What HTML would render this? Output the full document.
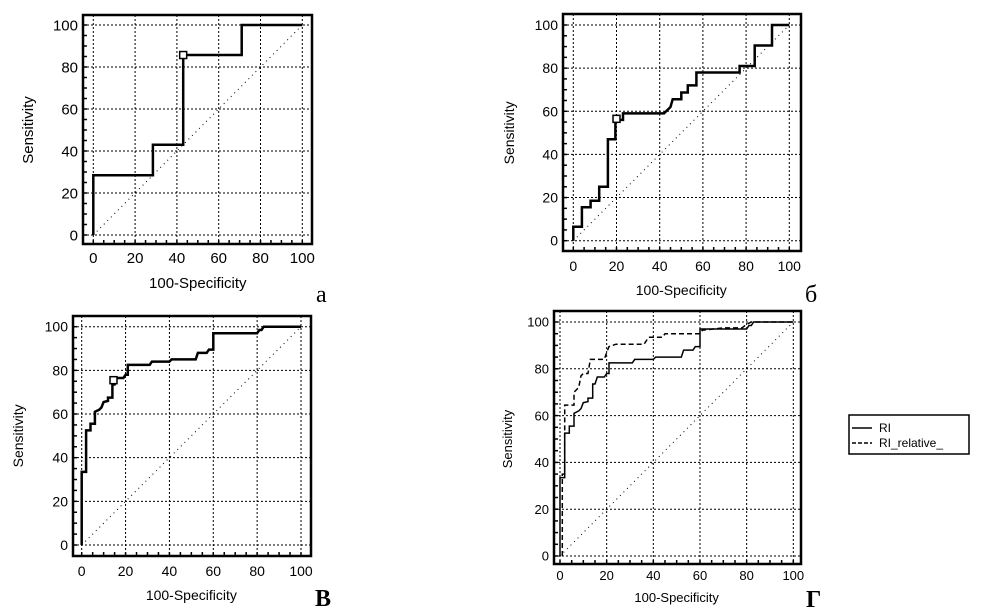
<!DOCTYPE html>
<html><head><meta charset="utf-8"><style>
html,body{margin:0;padding:0;background:#fff;}
svg{display:block;}
</style></head><body>
<svg id="root" width="994" height="614" viewBox="0 0 994 614" xmlns="http://www.w3.org/2000/svg">
<g id="legend">
<rect x="849" y="415" width="120" height="39" fill="#fff" stroke="#000" stroke-width="1.5"/>
<line x1="852" y1="428" x2="872" y2="428" stroke="#000" stroke-width="1.5"/>
<text x="879" y="432" font-family="Liberation Sans, sans-serif" font-size="12">RI</text>
<line x1="852" y1="443" x2="872" y2="443" stroke="#000" stroke-width="1.5" stroke-dasharray="4,2"/>
<text x="879" y="447" font-family="Liberation Sans, sans-serif" font-size="12">RI_relative_</text>
</g>
</svg>
<script>
const ticks = [0, 20, 40, 60, 80, 100];
const tickLabels = ["0", "20", "40", "60", "80", "100"];
// Panel a
const aX = [0, 0, 28.5, 28.5, 43, 43, 71, 71, 100];
const aY = [0, 28.5, 28.5, 43, 43, 85.7, 85.7, 100, 100];
const aMark = [43, 85.7];
// Panel б
const bX = [0, 0, 4, 4, 8, 8, 12, 12, 16, 16, 19.5, 19.5, 21, 23, 23, 42, 45, 46, 50, 50, 53, 53, 57, 57, 77, 77, 84, 84, 92, 92, 100];
const bY = [0, 6.5, 6.5, 15.5, 15.5, 18.5, 18.5, 25, 25, 47, 47, 56, 56, 56, 59, 59, 62, 65.6, 65.6, 68.7, 68.7, 72, 72, 78, 78, 81, 81, 90.5, 90.5, 100, 100];
const bMark = [20, 56.5];
// Panel в (RI)
const cX = [0, 0, 2, 2, 4, 4, 6, 6, 8, 9, 10, 12, 12, 14, 14, 15, 16, 19, 20, 21, 21, 31, 32, 40, 41, 52, 53, 57, 58, 60, 60, 80, 81, 82, 83, 100];
const cY = [0, 33.5, 33.5, 52.5, 52.5, 55.5, 55.5, 61, 62, 63, 65.5, 66, 67.5, 67.5, 73.5, 73.5, 76.5, 76.5, 78, 78, 82.5, 82.5, 84, 84, 85, 85, 88, 88, 89.5, 89.5, 97, 97, 98.5, 98.5, 100, 100];
const cMark = [14.5, 75.5];
// Panel г dashed (RI_relative_)
const dX = [1, 1, 2, 2, 6, 6, 8, 9, 10, 12, 13, 19, 20, 21, 24, 36, 38, 44, 45, 60, 61, 70, 78, 80, 82, 100];
const dY = [0, 35, 35, 64.5, 64.5, 70, 72, 77, 78, 78, 84, 84, 87, 89.5, 90.5, 90.5, 93.5, 93.5, 95, 95, 96.5, 97.5, 97.5, 99, 100, 100];

const NS = "http://www.w3.org/2000/svg";
const root = document.getElementById('root');
function mk(tag, attrs, parent) {
  const e = document.createElementNS(NS, tag);
  for (const k in attrs) e.setAttribute(k, attrs[k]);
  (parent || root).appendChild(e);
  return e;
}
function panel(p) {
  const g = mk('g', {});
  
  
  const sx = v => p.x0 + (p.x1 - p.x0) * v / 100;
  const sy = v => p.y0 + (p.y1 - p.y0) * v / 100;
  ticks.forEach(t => {
    const gv = mk('line', {x1: sx(t), x2: sx(t), y1: p.ft, y2: p.fb, stroke: '#000', 'stroke-width': 1, 'stroke-dasharray': '2,2'}, g);
    
    
    const gh = mk('line', {x1: p.fl, x2: p.fr, y1: sy(t), y2: sy(t), stroke: '#000', 'stroke-width': 1, 'stroke-dasharray': '2,2'}, g);
    
    
  });
  for (let t = 0; t <= 100; t += 5) {
    const tx = mk('line', {x1: sx(t), x2: sx(t), y1: p.fb, y2: p.fb - 4, stroke: '#000', 'stroke-width': 1.5}, g);
    
    
    const ty = mk('line', {x1: p.fl, x2: p.fl + 4, y1: sy(t), y2: sy(t), stroke: '#000', 'stroke-width': 1.5}, g);
    
    
  }
  const dg = mk('line', {x1: sx(0), y1: sy(0), x2: sx(100), y2: sy(100), stroke: '#000', 'stroke-width': 1, 'stroke-dasharray': '1,4'}, g);
  
  
  p.series.forEach(s => {
    const pts = s.x.map((v, i) => sx(v).toFixed(1) + ',' + sy(s.y[i]).toFixed(1)).join(' ');
    const pl = mk('polyline', {points: pts, fill: 'none', stroke: '#000', 'stroke-width': s.w, 'stroke-dasharray': s.dash || 'none', 'stroke-linejoin': 'miter'}, g);
    
    
  });
  if (p.mark) {
    const m = mk('rect', {x: sx(p.mark[0]) - 3.5, y: sy(p.mark[1]) - 3.5, width: 7, height: 7, fill: '#fff', stroke: '#000', 'stroke-width': 1.5}, g);
    
    
  }
  const fr = mk('rect', {x: p.fl, y: p.ft, width: p.fr - p.fl, height: p.fb - p.ft, fill: 'none', stroke: '#000', 'stroke-width': p.fw}, g);
  
  
  ticks.forEach((t, i) => {
    const lx = mk('text', {x: sx(t), y: p.xly, 'text-anchor': 'middle', 'font-family': 'Liberation Sans, sans-serif', 'font-size': p.fs}, g);
    lx.textContent = tickLabels[i];
    
    
    const ly = mk('text', {x: p.fl - 5, y: sy(t) + p.fs * 0.36, 'text-anchor': 'end', 'font-family': 'Liberation Sans, sans-serif', 'font-size': p.fs}, g);
    ly.textContent = tickLabels[i];
    
    
  });
  const xt = mk('text', {x: (sx(0) + sx(100)) / 2, y: p.xty, 'text-anchor': 'middle', 'font-family': 'Liberation Sans, sans-serif', 'font-size': p.fs}, g);
  xt.textContent = '100-Specificity';
  
  
  const cy = (sy(0) + sy(100)) / 2;
  const yt = mk('text', {x: p.ytx, y: cy, 'text-anchor': 'middle', 'font-family': 'Liberation Sans, sans-serif', 'font-size': p.fs, transform: 'rotate(-90 ' + p.ytx + ' ' + cy + ')'}, g);
  yt.textContent = 'Sensitivity';
  
  
  const pl = mk('text', {x: p.lx, y: p.ly, 'font-family': 'Liberation Serif, serif', 'font-size': 24, 'font-weight': p.lb ? 'bold' : 'normal'}, g);
  pl.textContent = p.letter;
  
  
}
panel({id: 'a', fl: 83, fr: 312, ft: 15, fb: 244, x0: 93.3, x1: 302.3, y0: 235, y1: 25, fw: 2.5, fs: 15,
  xly: 263, xty: 288, ytx: 33, lx: 316, ly: 302, letter: 'а',
  series: [{x: aX, y: aY, w: 2.5, name: 'roc-curve-a'}], mark: aMark});
panel({id: 'b', fl: 563, fr: 801, ft: 14, fb: 251, x0: 573.3, x1: 789.3, y0: 240.7, y1: 25, fw: 2.5, fs: 14,
  xly: 271, xty: 295, ytx: 514, lx: 805, ly: 302, letter: 'б',
  series: [{x: bX, y: bY, w: 2.5, name: 'roc-curve-b'}], mark: bMark});
panel({id: 'c', fl: 73, fr: 311, ft: 316, fb: 556, x0: 81.7, x1: 301, y0: 545, y1: 326.7, fw: 2.5, fs: 14,
  xly: 576, xty: 600, ytx: 23, lx: 315, ly: 606, letter: 'В', lb: true,
  series: [{x: cX, y: cY, w: 2.5, name: 'roc-curve-c'}], mark: cMark});
panel({id: 'd', fl: 554, fr: 801, ft: 311, fb: 564, x0: 560, x1: 793.3, y0: 556, y1: 322, fw: 2.5, fs: 13,
  xly: 580, xty: 602, ytx: 512, lx: 806, ly: 607, letter: 'Г', lb: true,
  series: [{x: cX, y: cY, w: 1.5, name: 'roc-curve-ri'}, {x: dX, y: dY, w: 1.5, dash: '5,3', name: 'roc-curve-ri-relative'}]});
</script>
</body></html>
